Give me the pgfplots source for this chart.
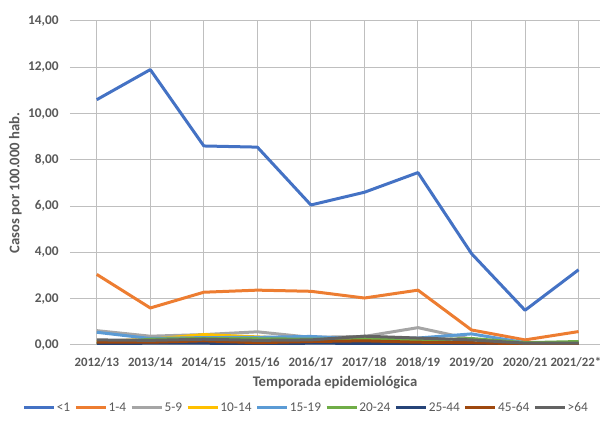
\documentclass[border=0pt]{standalone}
\usepackage{pgfplots}
\pgfplotsset{compat=1.18}
\usepackage{fontspec}
\setmainfont{Carlito}
\definecolor{c1}{HTML}{4472C4}
\definecolor{c2}{HTML}{ED7D31}
\definecolor{c3}{HTML}{A5A5A5}
\definecolor{c4}{HTML}{FFC000}
\definecolor{c5}{HTML}{5B9BD5}
\definecolor{c6}{HTML}{70AD47}
\definecolor{c7}{HTML}{264478}
\definecolor{c8}{HTML}{9E480E}
\definecolor{c9}{HTML}{636363}
\definecolor{txt}{HTML}{595959}
\definecolor{grid}{HTML}{D9D9D9}
\begin{document}
\begin{tikzpicture}
\useasboundingbox (0,0) rectangle (450.75pt,321pt);
\begin{axis}[
  at={(52.5pt,62.25pt)}, anchor=south west,
  scale only axis, width=397.5pt, height=243pt,
  xmin=-0.5, xmax=9.4, ymin=0, ymax=14,
  xtick=data,
  xticklabels={2012/13,2013/14,2014/15,2015/16,2016/17,2017/18,2018/19,2019/20,2020/21,\hspace*{-4pt}2021/22*},
  ytick={0,2,...,14},
  axis line style={draw=none},
  ymajorgrids, grid style={grid, line width=0.75pt},
  major tick length=0pt,
  tick label style={font=\fontsize{9.6}{11}\selectfont\bfseries, text=txt},
  yticklabel style={font=\fontsize{10}{11}\selectfont\bfseries},
  /pgf/number format/assume math mode=true,
  /pgf/number format/.cd, use comma, fixed, fixed zerofill, precision=2, 1000 sep={.},
  /pgfplots/.cd,
  yticklabel style={xshift=-5pt},
  xticklabel style={yshift=-6pt},
  xlabel={Temporada epidemiológica},
  ylabel={Casos por 100.000 hab.},
  label style={font=\fontsize{11}{13}\selectfont\bfseries, text=txt},
  xlabel style={yshift=0pt},
  ylabel style={yshift=-2pt},
  legend columns=9,
  legend style={at={(0.445,-0.194)}, anchor=center, draw=none, fill=none,
    font=\fontsize{10}{11}\selectfont, text=txt,
    nodes={inner sep=1pt},
    /tikz/every even column/.append style={column sep=2pt}},
  legend image code/.code={\draw[#1, line width=2.25pt] (0pt,0pt) -- (22.5pt,0pt);},
  every axis plot/.append style={line width=2.25pt, line join=round, mark=none},
]
\addplot[c1] coordinates {(0,10.6)(1,11.9)(2,8.6)(3,8.55)(4,6.05)(5,6.6)(6,7.45)(7,3.95)(8,1.5)(9,3.25)};
\addlegendentry{<1}
\addplot[c2] coordinates {(0,3.05)(1,1.6)(2,2.28)(3,2.37)(4,2.32)(5,2.03)(6,2.37)(7,0.65)(8,0.22)(9,0.58)};
\addlegendentry{1-4}
\addplot[c3] coordinates {(0,0.62)(1,0.38)(2,0.45)(3,0.57)(4,0.33)(5,0.37)(6,0.75)(7,0.25)(8,0.08)(9,0.08)};
\addlegendentry{5-9}
\addplot[c4] coordinates {(0,0.15)(1,0.25)(2,0.45)(3,0.35)(4,0.25)(5,0.2)(6,0.1)(7,0.05)(8,0.02)(9,0.05)};
\addlegendentry{10-14}
\addplot[c5] coordinates {(0,0.55)(1,0.28)(2,0.32)(3,0.33)(4,0.37)(5,0.25)(6,0.3)(7,0.48)(8,0.1)(9,0.1)};
\addlegendentry{15-19}
\addplot[c6] coordinates {(0,0.05)(1,0.25)(2,0.28)(3,0.27)(4,0.25)(5,0.28)(6,0.2)(7,0.28)(8,0.1)(9,0.15)};
\addlegendentry{20-24}
\addplot[c7] coordinates {(0,0.05)(1,0.08)(2,0.08)(3,0.04)(4,0.08)(5,0.07)(6,0.03)(7,0.04)(8,0.02)(9,0.03)};
\addlegendentry{25-44}
\addplot[c8] coordinates {(0,0.12)(1,0.12)(2,0.18)(3,0.1)(4,0.15)(5,0.18)(6,0.12)(7,0.1)(8,0.05)(9,0.05)};
\addlegendentry{45-64}
\addplot[c9] coordinates {(0,0.22)(1,0.2)(2,0.25)(3,0.2)(4,0.22)(5,0.38)(6,0.3)(7,0.22)(8,0.08)(9,0.08)};
\addlegendentry{>64}
\end{axis}
\end{tikzpicture}
\end{document}
